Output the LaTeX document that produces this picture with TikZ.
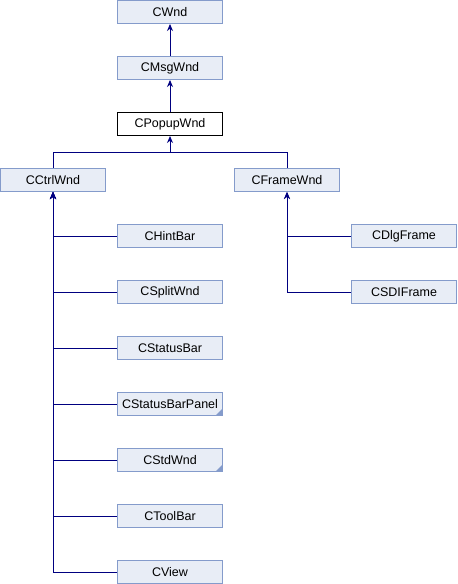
\documentclass[tikz,border=0pt]{standalone}
\usepackage{fontspec}
\setmainfont{Liberation Sans}
\usepackage{tikz}
\definecolor{dxFill}{HTML}{E8EDF6}
\definecolor{dxFrame}{HTML}{849BCB}
\definecolor{dxLine}{HTML}{000080}
\usetikzlibrary{positioning,arrows.meta}

\begin{document}
\begin{tikzpicture}[x=1pt,y=-1pt,node distance=32pt,
  cls/.style={draw=dxFrame,fill=dxFill,line width=1pt,inner sep=0pt,minimum width=105pt,minimum height=23pt,font=\fontsize{12.5}{14}\selectfont},
  cur/.style={cls,draw=black,fill=white},
  >={Stealth[length=7pt,width=6pt]}]
\useasboundingbox (0,0) rectangle (458,584);
\node[cls] (wnd) at (170,12) {CWnd};
\node[cls,below=of wnd] (msgwnd) {CMsgWnd};
\node[cur,below=of msgwnd] (popup) {CPopupWnd};
\node[cls] (ctrl) at (53,180) {CCtrlWnd};
\node[cls] (frame) at (287,180) {CFrameWnd};
\node[cls] (hint) at (170,236) {CHintBar};
\node[cls,below=of hint] (split) {CSplitWnd};
\node[cls,below=of split] (status) {CStatusBar};
\node[cls,below=of status] (panel) {CStatusBarPanel};
\node[cls,below=of panel] (std) {CStdWnd};
\node[cls,below=of std] (tool) {CToolBar};
\node[cls,below=of tool] (view) {CView};
\node[cls] (dlg) at (404,236) {CDlgFrame};
\node[cls,below=of dlg] (sdi) {CSDIFrame};
% corner marks for classes with more members
\foreach \c in {panel,std}
  \fill[dxFrame] ([xshift=-1pt,yshift=1pt]\c.south east) -- ++(0pt,6pt) -- ++(-6pt,-6pt) -- cycle;
\coordinate (fork) at (170,152);
\begin{scope}[draw=dxLine,line width=1pt]
\draw[->] (msgwnd)--(wnd);\draw[->] (popup)--(msgwnd);
\draw[<-] (popup)--(fork);\draw (fork)-|(ctrl);\draw (fork)-|(frame);
\foreach \c in {hint,split,status,panel,std,tool,view}
  \draw[<-] (ctrl)|-(\c);
\foreach \c in {dlg,sdi}
  \draw[<-] (frame)|-(\c);
\end{scope}
\end{tikzpicture}
\end{document}
